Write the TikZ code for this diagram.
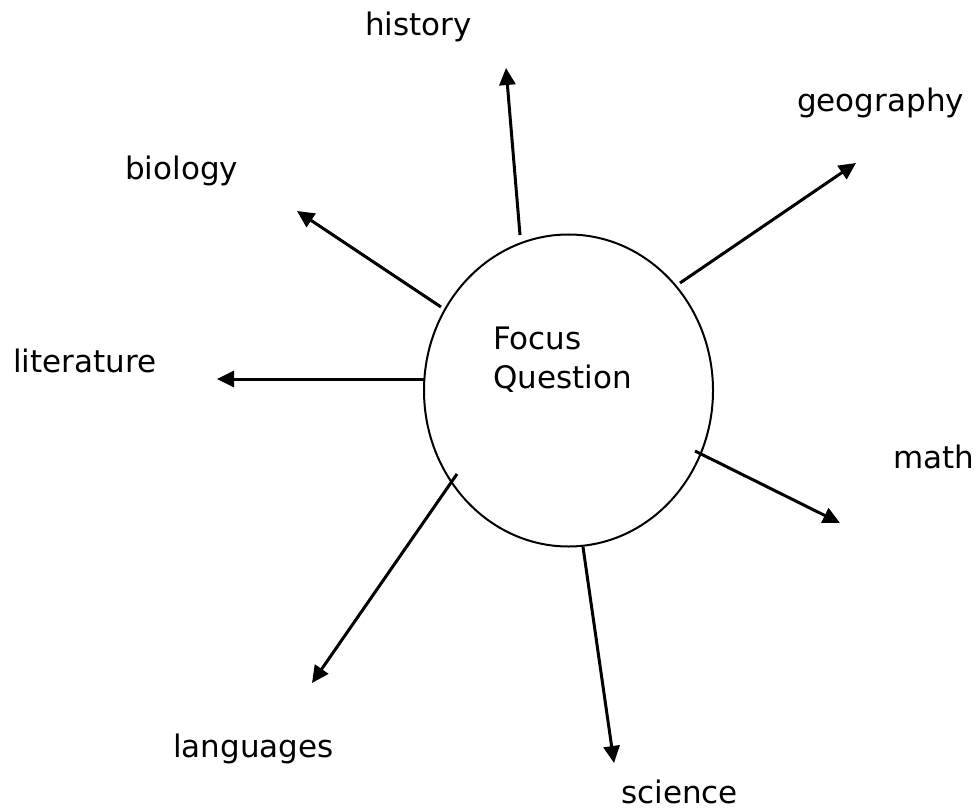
\documentclass[tikz,border=0pt]{standalone}
\usepackage{fontspec}
\setmainfont{DejaVu Sans}
\usepackage{tikz}
\usetikzlibrary{arrows.meta,shapes.geometric,positioning}

\tikzset{
    topic/.style={anchor=base west, inner sep=0pt, font=\fontsize{31}{39}\selectfont},
    spoke/.style={-{Triangle[length=17pt,width=16pt]}, line width=3pt}
}

\begin{document}
\begin{tikzpicture}[x=1pt, y=-1pt]
    \useasboundingbox (0,0) rectangle (976,810);
    \node[draw, ellipse, line width=2pt, minimum width=289pt, minimum height=312pt, inner sep=0pt] (focus) at (568.5,390.5) {};
    \node[topic] (qfocus) at (493,349) {Focus};
    \node[topic] (qquestion) at (493,388) {Question};
    % spoke ends
    \coordinate (hs) at (520,235);  \coordinate (he) at (506,68);
    \coordinate (gs) at (680,283);  \coordinate (ge) at (856,163);
    \coordinate (bs) at (441,307);  \coordinate (be) at (297,211);
    \coordinate (ls) at (424,379);  \coordinate (le) at (217,379);
    \coordinate (ms) at (695,451);  \coordinate (me) at (840,523);
    \coordinate (gls) at (457,474); \coordinate (gle) at (312,683);
    \coordinate (ss) at (583,547);  \coordinate (se) at (614,763);
    \draw[spoke] (hs) -- (he);
    \draw[spoke] (gs) -- (ge);
    \draw[spoke] (bs) -- (be);
    \draw[spoke] (ls) -- (le);
    \draw[spoke] (ms) -- (me);
    \draw[spoke] (gls) -- (gle);
    \draw[spoke] (ss) -- (se);
    % subjects
    \node[topic] (history) at (365,36) {history};
    \node[topic] (geography) at (797,112) {geography};
    \node[topic] (biology) at (125,180) {biology};
    \node[topic] (literature) at (13,372) {literature};
    \node[topic] (math) at (893,468) {math};
    \node[topic] (languages) at (173,757) {languages};
    \node[topic] (science) at (621,803) {science};
\end{tikzpicture}
\end{document}
